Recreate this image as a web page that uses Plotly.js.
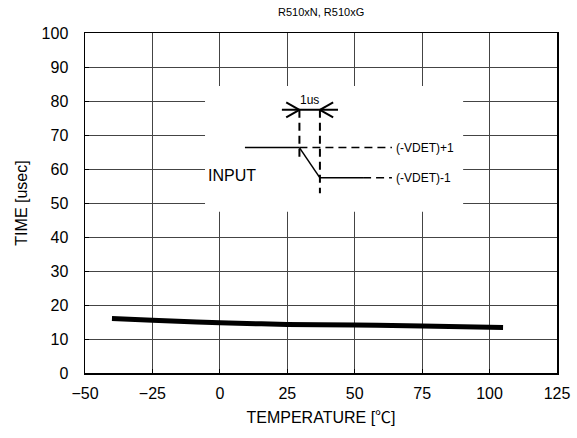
<!DOCTYPE html>
<html><head><meta charset="utf-8">
<script src="https://cdn.plot.ly/plotly-3.0.1.min.js"></script>
<style>body{margin:0;background:#fff}#c{width:577px;height:438px}</style>
</head><body><div id="c"></div>
<script>
var temperature = [-40, -25, 0, 25, 50, 75, 105];
var timeUsec = [16.0, 15.5, 14.8, 14.3, 14.1, 13.8, 13.4];
var xTicks = [-50, -25, 0, 25, 50, 75, 100, 125];
var yTicks = [0, 10, 20, 30, 40, 50, 60, 70, 80, 90, 100];

var F = 'Liberation Sans, Arial, Noto Sans CJK JP, sans-serif';
var trace = {x: temperature, y: timeUsec, mode: 'lines', line: {color: '#000', width: 5, shape: 'spline'}, hoverinfo: 'skip'};

function ln(x0, y0, x1, y1, dash, w) {
  return {type: 'line', xref: 'x', yref: 'y', x0: x0, y0: y0, x1: x1, y1: y1, layer: 'above',
          line: {color: '#000', width: w || 1.5, dash: dash || 'solid'}};
}
var shapes = [
  {type: 'rect', xref: 'x', yref: 'y', x0: -5.5, x1: 90.2, y0: 47.4, y1: 84.4, layer: 'between', fillcolor: '#fff', line: {width: 0}},
  ln(9.3, 66.3, 29.5, 66.3),
  ln(29.5, 66.3, 37.1, 57.4),
  ln(37.1, 57.4, 53.1, 57.4),
  ln(29.5, 66.3, 63.8, 66.3, '8px,5px'),
  ln(53.1, 57.4, 63.8, 57.4, '8px,5px'),
  ln(29.5, 77.4, 29.5, 62.6, '8px,5px', 2),
  ln(37.1, 77.4, 37.1, 52.9, '8px,5px', 2),
  ln(23.0, 77.4, 43.8, 77.4, null, 2),
  ln(24.6, 79.6, 29.5, 77.4, null, 2), ln(24.6, 75.2, 29.5, 77.4, null, 2),
  ln(42.0, 79.6, 37.1, 77.4, null, 2), ln(42.0, 75.2, 37.1, 77.4, null, 2)
];
var annotations = [
  {x: 0.5, y: 1, xref: 'paper', yref: 'paper', yanchor: 'middle', yshift: 21, text: 'R510xN, R510xG', showarrow: false, font: {size: 11, color: '#000', family: F}},
  {x: 33.3, y: 77.4, yshift: 10, text: '1us', showarrow: false, font: {size: 12, color: '#000', family: F}},
  {x: 4.6, y: 58.0, text: 'INPUT', showarrow: false, font: {size: 16, color: '#000', family: F}},
  {x: 64.5, y: 66.3, xanchor: 'left', text: '(-VDET)+1', showarrow: false, font: {size: 12, color: '#000', family: F}},
  {x: 64.5, y: 57.4, xanchor: 'left', text: '(-VDET)-1', showarrow: false, font: {size: 12, color: '#000', family: F}}
];
var ax = {showline: true, mirror: true, linecolor: '#000', linewidth: 1.5, gridcolor: '#444', gridwidth: 1,
          zeroline: false, ticks: 'inside', ticklen: 4, tickcolor: '#000', tickfont: {size: 16, color: '#000', family: F}};
var layout = {
  width: 577, height: 438, margin: {l: 85, r: 20, t: 33, b: 65},
  paper_bgcolor: '#fff', plot_bgcolor: '#fff', showlegend: false,
  xaxis: Object.assign({}, ax, {range: [-50, 125], tickvals: xTicks, ticktext: xTicks.map(function(v){return v < 0 ? '\u2212' + (-v) : String(v);}),
    ticklabelstandoff: 5, title: {text: 'TEMPERATURE [\u2103]', font: {size: 16, color: '#000', family: F}, standoff: 11}}),
  yaxis: Object.assign({}, ax, {range: [0, 100], tickvals: yTicks, ticklabelstandoff: 12,
    title: {text: 'TIME [usec]', font: {size: 16, color: '#000', family: F}, standoff: 10}}),
  shapes: shapes, annotations: annotations
};
Plotly.newPlot('c', [trace], layout, {staticPlot: true});
</script></body></html>
